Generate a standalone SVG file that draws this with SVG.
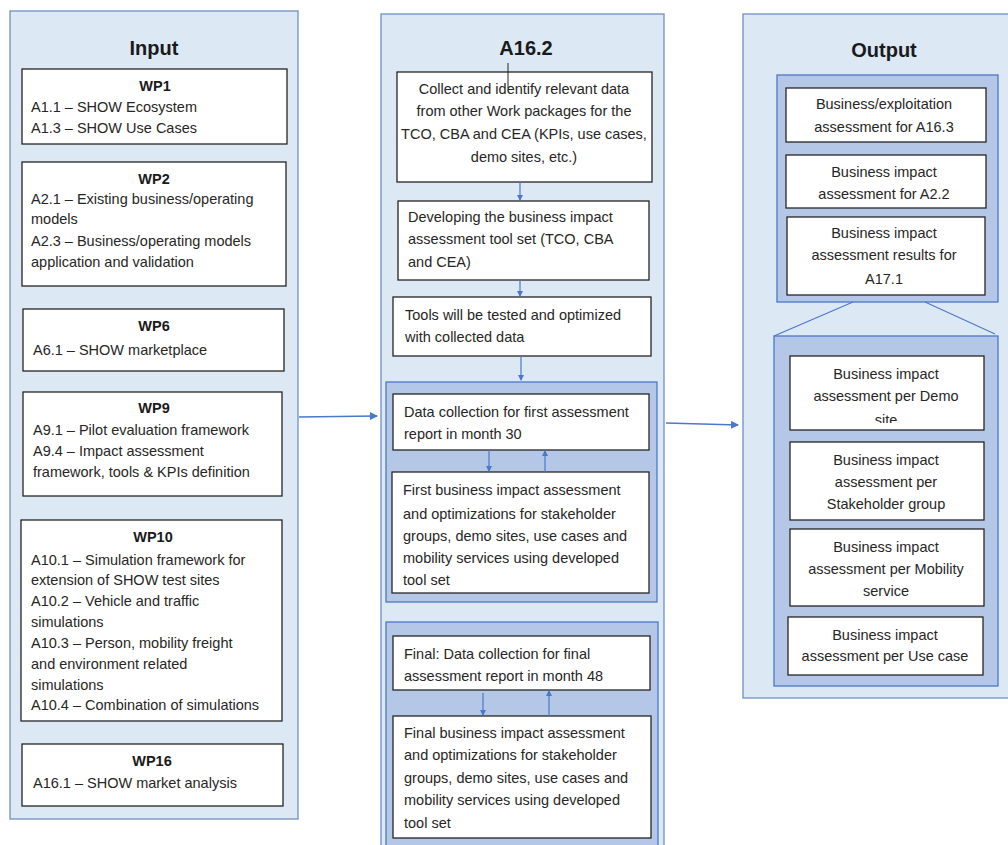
<svg xmlns="http://www.w3.org/2000/svg" width="1008" height="845" viewBox="0 0 1008 845">
<style>
.panel{fill:#dde8f5;stroke:#6f8fc4;stroke-width:1.3}
.sub{fill:#b4c7e7;stroke:#4d78c8;stroke-width:1.3}
.box{fill:#ffffff;stroke:#262626;stroke-width:1.3}
text{font-family:"Liberation Sans",Arial,sans-serif;font-size:14.5px;fill:#262626}
.title{font-size:20px;font-weight:bold;text-anchor:middle;fill:#1a1a1a}
.hd{font-size:14.5px;font-weight:bold;text-anchor:middle;fill:#1a1a1a}
.c{text-anchor:middle}
.conn{stroke:#4a78cc;stroke-width:1.5;fill:none}
.thin{stroke:#4a78cc;stroke-width:1.2;fill:none}
</style>
<defs>
<marker id="ah" markerWidth="8" markerHeight="8" refX="7" refY="4" orient="auto" markerUnits="userSpaceOnUse">
<path d="M0,0 L8,4 L0,8 z" fill="#4a78cc"/>
</marker>
<marker id="ahs" markerWidth="6" markerHeight="6" refX="5" refY="3" orient="auto" markerUnits="userSpaceOnUse">
<path d="M0,0 L6,3 L0,6 z" fill="#4a78cc"/>
</marker>
<clipPath id="clipO4"><rect x="790" y="356" width="194" height="67"/></clipPath>
</defs>

<!-- Input panel -->
<g id="input">
<rect class="panel" x="10" y="11" width="288" height="808"/>
<text class="title" x="154" y="55">Input</text>
</g>
<g id="wp1">
<rect class="box" x="22" y="69" width="265" height="75"/>
<text class="hd" x="155" y="91">WP1</text>
<text x="31" y="112">A1.1 – SHOW Ecosystem</text>
<text x="31" y="133">A1.3 – SHOW Use Cases</text>
</g>
<g id="wp2">
<rect class="box" x="22" y="162" width="264" height="124"/>
<text class="hd" x="154" y="184">WP2</text>
<text x="31" y="204">A2.1 – Existing business/operating</text>
<text x="31" y="224">models</text>
<text x="31" y="246">A2.3 – Business/operating models</text>
<text x="31" y="267">application and validation</text>
</g>
<g id="wp6">
<rect class="box" x="23" y="309" width="261" height="62"/>
<text class="hd" x="154" y="331">WP6</text>
<text x="33" y="355">A6.1 – SHOW marketplace</text>
</g>
<g id="wp9">
<rect class="box" x="23" y="392" width="259" height="104"/>
<text class="hd" x="154" y="413">WP9</text>
<text x="33" y="435">A9.1 – Pilot evaluation framework</text>
<text x="33" y="456">A9.4 – Impact assessment</text>
<text x="33" y="477">framework, tools &amp; KPIs definition</text>
</g>
<g id="wp10">
<rect class="box" x="21" y="520" width="261" height="201"/>
<text class="hd" x="153" y="542">WP10</text>
<text x="31" y="565">A10.1 – Simulation framework for</text>
<text x="31" y="585">extension of SHOW test sites</text>
<text x="31" y="606">A10.2 – Vehicle and traffic</text>
<text x="31" y="627">simulations</text>
<text x="31" y="648">A10.3 – Person, mobility freight</text>
<text x="31" y="669">and environment related</text>
<text x="31" y="690">simulations</text>
<text x="31" y="710">A10.4 – Combination of simulations</text>
</g>
<g id="wp16">
<rect class="box" x="22" y="744" width="261" height="62"/>
<text class="hd" x="152" y="766">WP16</text>
<text x="33" y="788">A16.1 – SHOW market analysis</text>
</g>

<!-- A16.2 panel -->
<g id="a162">
<rect class="panel" x="381" y="14" width="283" height="840"/>
<text class="title" x="526" y="55">A16.2</text>
</g>
<g id="sub1">
<rect class="sub" x="386" y="382" width="271" height="220"/>
</g>
<g id="sub2">
<rect class="sub" x="386" y="622" width="272" height="230"/>
</g>
<g id="collect">
<rect class="box" x="397" y="72" width="255" height="110"/>
<text class="c" x="524" y="94">Collect and identify relevant data</text>
<text class="c" x="524" y="116">from other Work packages for the</text>
<text class="c" x="524" y="139">TCO, CBA and CEA (KPIs, use cases,</text>
<text class="c" x="524" y="162">demo sites, etc.)</text>
<line x1="508" y1="63" x2="508" y2="88" stroke="#262626" stroke-width="1"/>
</g>
<g id="develop">
<rect class="box" x="398" y="201" width="251" height="79"/>
<text x="408" y="222">Developing the business impact</text>
<text x="408" y="244">assessment tool set (TCO, CBA</text>
<text x="408" y="267">and CEA)</text>
</g>
<g id="tested">
<rect class="box" x="393" y="297" width="258" height="59"/>
<text x="405" y="320">Tools will be tested and optimized</text>
<text x="405" y="342">with collected data</text>
</g>
<g id="datafirst">
<rect class="box" x="393" y="394" width="256" height="56"/>
<text x="404" y="417">Data collection for first assessment</text>
<text x="404" y="439">report in month 30</text>
</g>
<g id="firstbiz">
<rect class="box" x="392" y="472" width="257" height="121"/>
<text x="403" y="495">First business impact assessment</text>
<text x="403" y="519">and optimizations  for stakeholder</text>
<text x="403" y="541">groups, demo sites, use cases and</text>
<text x="403" y="563">mobility services using developed</text>
<text x="403" y="585">tool set</text>
</g>
<g id="datafinal">
<rect class="box" x="393" y="636" width="257" height="54"/>
<text x="404" y="659">Final: Data collection for final</text>
<text x="404" y="681">assessment report in month 48</text>
</g>
<g id="finalbiz">
<rect class="box" x="393" y="716" width="258" height="122"/>
<text x="404" y="738">Final business impact assessment</text>
<text x="404" y="760">and optimizations  for stakeholder</text>
<text x="404" y="783">groups, demo sites, use cases and</text>
<text x="404" y="805">mobility services using developed</text>
<text x="404" y="828">tool set</text>
</g>

<!-- Output panel -->
<g id="output">
<rect class="panel" x="743" y="14" width="270" height="684"/>
<text class="title" x="884" y="57">Output</text>
</g>
<g id="subA">
<rect class="sub" x="777" y="75" width="221" height="227"/>
</g>
<g id="subB">
<rect class="sub" x="774" y="336" width="224" height="350"/>
</g>
<g id="o1">
<rect class="box" x="786" y="88" width="200" height="54"/>
<text class="c" x="884" y="109">Business/exploitation</text>
<text class="c" x="884" y="132">assessment for A16.3</text>
</g>
<g id="o2">
<rect class="box" x="786" y="155" width="200" height="53"/>
<text class="c" x="884" y="177">Business impact</text>
<text class="c" x="884" y="199">assessment for A2.2</text>
</g>
<g id="o3">
<rect class="box" x="787" y="217" width="198" height="78"/>
<text class="c" x="884" y="238">Business impact</text>
<text class="c" x="884" y="260">assessment results for</text>
<text class="c" x="884" y="284">A17.1</text>
</g>
<g id="o4">
<rect class="box" x="790" y="356" width="194" height="74"/>
<text class="c" x="886" y="379">Business impact</text>
<text class="c" x="886" y="401">assessment per Demo</text>
<text class="c" x="886" y="425" clip-path="url(#clipO4)">site</text>
</g>
<g id="o5">
<rect class="box" x="790" y="442" width="194" height="78"/>
<text class="c" x="886" y="465">Business impact</text>
<text class="c" x="886" y="487">assessment per</text>
<text class="c" x="886" y="509">Stakeholder group</text>
</g>
<g id="o6">
<rect class="box" x="790" y="529" width="194" height="77"/>
<text class="c" x="886" y="552">Business impact</text>
<text class="c" x="886" y="574">assessment per Mobility</text>
<text class="c" x="886" y="596">service</text>
</g>
<g id="o7">
<rect class="box" x="788" y="617" width="195" height="58"/>
<text class="c" x="885" y="640">Business impact</text>
<text class="c" x="885" y="661">assessment per Use case</text>
</g>

<!-- connectors -->
<g id="connectors">
<line class="conn" x1="299" y1="417" x2="377" y2="416" marker-end="url(#ah)"/>
<line class="conn" x1="666" y1="423" x2="738" y2="425" marker-end="url(#ah)"/>
<line class="thin" x1="520" y1="182" x2="520" y2="200" marker-end="url(#ahs)"/>
<line class="thin" x1="520" y1="280" x2="520" y2="296" marker-end="url(#ahs)"/>
<line class="thin" x1="521" y1="356" x2="521" y2="380" marker-end="url(#ahs)"/>
<line class="thin" x1="489" y1="450" x2="489" y2="471" marker-end="url(#ahs)"/>
<line class="thin" x1="545" y1="472" x2="545" y2="451" marker-end="url(#ahs)"/>
<line class="thin" x1="483" y1="693" x2="483" y2="715" marker-end="url(#ahs)"/>
<line class="thin" x1="549" y1="716" x2="549" y2="691" marker-end="url(#ahs)"/>
<line class="thin" x1="853" y1="302" x2="774" y2="336"/>
<line class="thin" x1="925" y1="302" x2="995" y2="334"/>
</g>
</svg>
